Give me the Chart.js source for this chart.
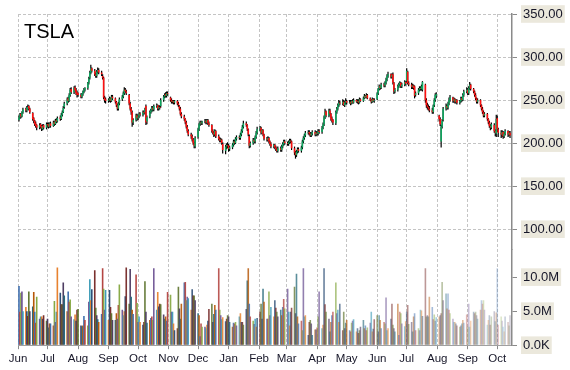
<!DOCTYPE html>
<html>
<head>
<meta charset="utf-8">
<script src="https://cdn.jsdelivr.net/npm/chart.js@4.4.1/dist/chart.umd.min.js"></script>
<style>
  html, body { margin: 0; padding: 0; background: #fff; }
  #wrap { width: 570px; height: 370px; position: relative; }
</style>
</head>
<body>
<div id="wrap"><canvas id="chart"></canvas></div>
<script>
const ticker = 'TSLA';

// one entry per month shown on the axis
const months = ['2014-06','2014-07','2014-08','2014-09','2014-10','2014-11','2014-12',
  '2015-01','2015-02','2015-03','2015-04','2015-05','2015-06','2015-07','2015-08','2015-09','2015-10'];
const monthLabels = ['Jun','Jul','Aug','Sep','Oct','Nov','Dec','Jan','Feb','Mar','Apr','May','Jun','Jul','Aug','Sep','Oct'];

const priceTicks = [100, 150, 200, 250, 300, 350];
const volumeTicks = [0, 5000000, 10000000];

// daily prices, one row per month (weekdays in order)
const open = [
  [227,230,234,231,236,240,238,240,243,240,235,229,226,223,221,218,222,220,216,221,218],
  [222,222,219,223,220,225,222,227,225,230,228,233,236,242,246,252,249,256,263,259,265,262,259],
  [258,256,254,257,260,262,264,270,276,282,287,284,280,278,283,285,282,278,276,253,251],
  [249,250,252,249,254,252,248,244,240,246,251,254,258,262,260,256,246,240,236,224,227,232],
  [229,231,234,233,236,236,243,225,231,236,238,241,239,243,244,240,242,243,250,254,257,255,258],
  [253,250,248,249,247,249,246,243,240,234,231,228,224,219,214,210,208,204,200,196],
  [207,216,222,224,223,225,226,224,227,223,221,214,212,210,214,208,205,203,204,199,191,196,198],
  [197,193,195,198,202,200,205,207,206,210,214,219,223,221,216,208,197,200,204,202,207,212],
  [216,218,212,215,210,205,204,206,202,199,196,198,195,193,191,194,192,196,199,202],
  [200,199,201,203,202,194,189,186,190,193,191,195,202,206,209,212,213,211,209,211,213,210],
  [212,211,214,213,218,222,230,237,232,238,234,229,227,223,236,240,244,247,246,248,244,247],
  [249,247,248,246,249,247,250,248,249,247,251,249,252,255,253,256,252,250,248,251,249],
  [251,258,263,266,264,268,267,270,274,278,280,277,280,270,260,262,266,268,270,266,268,271],
  [272,283,270,268,265,267,266,256,258,262,264,263,262,268,250,244,242,240,238,236,244,250,255],
  [232,228,202,219,227,240,243,241,246,250,253,249,251,248,250,247,249,252,250,256,260],
  [262,258,264,268,263,260,256,252,248,250,244,240,236,232,234,228,224,220,218,221,214,211],
  [229,216,212,210,213,208,211,214,210,212]
];
const high = [
  [232,235,235,237,241,241,243,245,244,241,236,230,227,225,222,223,223,221,222,222,224],
  [224,224,224,225,226,226,228,229,231,232,235,238,243,248,253,254,258,264,265,266,267,264,261],
  [259,258,258,261,264,265,271,277,284,291,288,286,282,285,288,287,284,280,277,255,253],
  [252,254,253,256,256,253,249,246,248,253,256,260,265,264,262,257,248,242,238,229,234,234],
  [233,236,236,238,238,241,245,232,238,240,243,243,245,246,245,244,244,252,256,258,259,260,260],
  [254,252,250,250,250,250,248,244,242,236,233,229,226,221,216,212,210,206,202,208],
  [218,224,226,226,226,228,228,228,228,225,222,216,214,216,215,210,207,206,205,201,198,200,201],
  [199,197,200,204,204,207,209,209,212,216,221,226,225,222,217,210,202,206,206,209,214,219],
  [220,219,216,216,211,207,208,207,203,201,199,199,197,195,196,196,198,201,204,204],
  [202,203,205,205,203,196,191,192,195,195,197,204,208,211,214,215,215,213,213,215,215,214],
  [214,216,216,220,224,232,240,238,240,240,235,231,228,238,242,246,250,249,251,250,249,252],
  [250,250,250,250,251,252,251,251,251,253,252,254,257,256,258,257,253,251,253,252,252],
  [259,264,268,267,270,270,272,276,280,283,281,281,282,271,264,268,270,272,271,270,273,272],
  [287,284,272,270,269,268,267,260,264,266,266,268,272,269,252,247,245,243,241,245,252,258,259],
  [233,230,221,228,242,246,245,248,253,256,254,253,252,251,251,250,254,254,258,262,265],
  [264,266,271,269,264,261,258,253,252,251,245,242,238,236,235,229,226,222,224,223,216,233],
  [232,218,215,215,214,213,216,215,214,214]
];
const low = [
  [225,228,229,230,234,236,236,239,238,234,226,223,220,218,215,216,217,214,215,216,216],
  [218,217,218,218,219,220,221,223,224,226,227,231,235,240,244,247,248,254,257,257,259,256,253],
  [254,252,252,255,258,260,262,268,274,280,282,278,276,276,281,280,278,274,251,247,246],
  [247,248,247,248,250,246,242,238,238,244,249,252,256,258,256,244,238,233,219,221,225,226],
  [227,229,231,231,233,234,221,222,229,234,236,237,237,241,238,238,239,241,248,252,253,253,255],
  [248,246,246,245,245,244,242,238,232,229,226,222,217,212,208,205,202,198,194,194],
  [205,214,220,221,221,223,222,222,221,219,212,210,207,208,206,203,201,201,198,188,187,193,194],
  [190,191,193,196,198,199,203,204,204,208,212,217,219,214,208,194,195,198,200,200,205,210],
  [214,210,211,208,203,202,202,200,197,194,194,193,191,189,189,190,190,194,197,198],
  [197,197,199,200,192,186,182,184,188,189,189,193,200,204,207,210,209,207,207,209,208,208],
  [209,209,211,211,216,220,228,230,230,232,226,224,221,221,234,238,242,244,244,243,242,245],
  [245,246,244,245,246,246,247,246,245,246,248,248,251,252,252,251,249,246,247,248,247],
  [250,256,261,262,263,265,265,268,272,276,275,275,268,257,258,260,264,266,264,264,266,267],
  [270,268,266,263,263,262,252,254,256,260,261,261,260,247,241,239,238,236,234,234,242,248,252],
  [225,220,195,217,225,238,239,239,244,248,247,247,246,246,245,245,247,248,249,254,258],
  [256,256,262,261,258,254,250,246,246,242,238,234,230,230,226,222,218,215,216,212,208,207],
  [213,207,206,207,205,206,209,207,208,206]
];
const close = [
  [230,233,231,236,239,238,241,242,240,236,228,226,222,220,218,221,219,217,220,218,222],
  [221,219,223,220,224,222,226,225,229,228,233,236,241,246,251,249,256,262,259,264,261,258,256],
  [256,254,257,260,262,264,270,275,282,287,284,280,278,283,285,282,280,276,253,250,249],
  [250,252,249,254,252,248,244,240,246,251,254,258,262,260,258,246,240,236,224,227,232,229],
  [231,234,233,236,235,240,224,230,236,238,241,239,243,244,240,242,241,250,254,256,255,258,257],
  [250,248,249,247,249,246,244,240,234,231,228,224,219,214,210,208,204,200,197,206],
  [216,222,224,223,225,226,224,227,223,221,214,212,210,214,208,205,203,204,200,192,196,198,197],
  [193,195,198,202,200,205,207,206,210,214,219,223,221,216,210,197,200,204,202,207,212,216],
  [218,212,215,210,205,204,206,202,199,196,198,195,193,191,194,192,196,199,202,200],
  [199,201,203,202,194,189,186,190,193,191,195,202,206,209,212,213,211,209,211,213,210,212],
  [211,214,213,218,222,230,236,232,238,234,228,226,224,236,240,244,247,246,248,244,247,249],
  [247,248,246,249,247,250,248,249,247,251,249,252,255,253,256,252,250,248,251,249,250],
  [258,263,266,264,268,267,270,274,278,280,277,279,270,260,262,266,268,270,266,268,271,269],
  [284,270,268,265,267,264,255,258,262,264,263,266,271,250,244,242,240,238,236,244,250,256,257],
  [228,222,219,226,240,243,241,246,250,253,249,251,248,250,247,249,252,250,256,260,262],
  [258,264,268,263,260,256,252,248,250,244,240,236,232,234,228,224,220,218,222,214,212,228],
  [216,212,210,213,208,211,214,210,212,209]
];
// daily volume, millions of shares
const volume = [
  [8.7,4.9,7.7,7.9,5.0,5.6,5.0,4.3,7.9,5.0,5.7,7.8,4.9,3.3,7.1,3.9,4.2,4.2,3.9,4.4,3.6],
  [3.9,2.6,3.2,3.2,2.9,6.5,3.4,4.9,11.4,7.7,6.0,6.0,9.2,7.3,5.0,7.9,6.4,6.7,4.2,3.8,4.5,3.6,5.2],
  [5.3,2.9,2.8,2.9,4.3,3.7,2.9,6.4,9.7,6.6,8.2,11.0,5.5,4.4,3.8,3.4,4.6,11.3,8.3,5.2,8.1],
  [3.7,8.1,5.6,4.7,3.7,3.7,4.7,3.9,5.9,8.9,5.2,4.4,5.0,7.2,11.4,6.1,11.2,7.1,5.2,4.6,10.4,6.2],
  [3.4,4.2,3.4,3.0,3.4,9.4,4.9,3.3,3.7,4.0,4.2,3.7,11.3,5.2,7.8,5.7,6.1,6.0,4.5,3.9,4.2,3.6,7.8],
  [7.4,4.9,4.9,3.2,2.2,2.5,8.6,5.4,3.9,6.1,9.2,9.3,6.6,7.1,6.9,5.2,8.2,7.3,7.3,6.6],
  [4.7,4.4,1.3,3.2,2.7,2.7,2.5,3.0,3.6,5.3,6.1,3.4,4.6,5.9,5.2,11.3,5.2,4.4,3.8,4.1,3.5,3.9,4.4],
  [4.2,3.4,2.7,3.3,3.2,3.4,2.9,4.2,4.7,3.4,3.4,3.0,5.3,9.5,11.3,6.1,4.2,3.6,3.1,3.9,2.7,4.0],
  [4.9,6.1,3.9,8.3,6.4,3.9,3.9,7.9,4.4,5.6,4.2,6.6,5.5,4.9,4.2,5.2,4.4,5.6,6.8,5.4],
  [8.3,4.9,2.9,4.9,5.5,8.6,4.7,10.5,4.2,3.2,3.6,2.2,11.3,4.2,4.4,1.5,3.4,3.7,3.2,1.5,2.3,2.3],
  [2.6,4.2,7.9,2.5,3.0,11.3,6.0,4.9,3.9,2.0,3.4,4.4,4.9,9.2,4.7,5.2,3.4,6.1,2.2,4.9,2.5,3.3],
  [3.7,2.2,2.0,3.3,3.6,3.8,2.0,2.5,1.8,2.2,2.7,3.7,2.5,2.9,2.2,2.6,3.3,4.9,2.0,2.4,3.8],
  [4.4,2.0,4.4,3.7,2.5,3.4,3.2,7.0,2.2,2.5,3.9,6.1,3.0,2.5,2.0,6.1,1.5,4.9,4.7,3.2,2.8,3.5],
  [4.9,5.9,3.1,3.4,2.0,4.2,4.7,2.2,2.5,2.2,5.2,5.1,4.3,11.3,4.2,4.4,4.2,7.1,5.6,3.8,4.5,3.6,4.1],
  [4.2,4.4,4.7,9.3,6.6,7.6,5.4,7.6,5.2,4.7,3.9,3.4,3.4,3.2,2.9,2.7,2.9,3.2,3.7,3.3,4.5],
  [2.7,6.1,2.7,3.6,4.9,4.7,4.9,4.4,3.9,5.2,6.6,6.1,6.6,5.2,3.0,3.7,4.4,3.0,4.2,5.0,3.5,4.8],
  [11.3,3.0,4.2,3.6,2.7,2.0,4.2,3.4,2.9,4.4]
];

// x axis is in calendar days counted from 1 Jun 2014
const DAY = 86400000;
const origin = Date.UTC(2014, 5, 1);
const dayNo = t => Math.round((t - origin) / DAY);

const tickDays = [];
const xDays = [];
months.forEach((m, k) => {
  const [y, mo] = m.split('-').map(Number);
  tickDays.push(dayNo(Date.UTC(y, mo - 1, 1)));
  const weekdays = [];
  for (let d = 1; d <= 31; d++) {
    const dt = new Date(Date.UTC(y, mo - 1, d));
    if (dt.getUTCMonth() !== mo - 1) break;
    const wd = dt.getUTCDay();
    if (wd !== 0 && wd !== 6) weekdays.push(dayNo(dt.getTime()));
  }
  close[k].forEach((_, i) => xDays.push(weekdays[i]));
});

const O = open.flat(), H = high.flat(), L = low.flat(), C = close.flat(), V = volume.flat();
const bodies = C.map((c, i) => ({ x: xDays[i], y: [O[i], c] }));
const wicks = C.map((c, i) => ({ x: xDays[i], y: [L[i], H[i]] }));
const vols = V.map((v, i) => ({ x: xDays[i], y: v * 1e6 }));

// volume bars cycle through an office-style palette and fade out towards the right
const volPalette = ['#3F6FAE','#B2423E','#86A843','#6E5494','#3A9AB6','#E8822E',
                    '#2C4D75','#772C2A','#5F7530','#4D3B62','#276A7C','#B65708'];
function volColor(i) {
  const hex = volPalette[i % volPalette.length];
  const r = parseInt(hex.slice(1, 3), 16), g = parseInt(hex.slice(3, 5), 16), b = parseInt(hex.slice(5, 7), 16);
  const a = 1 - 0.75 * Math.pow(i / (vols.length - 1), 2);
  return `rgba(${r},${g},${b},${a.toFixed(3)})`;
}

const tickerLabel = {
  id: 'tickerLabel',
  afterDraw(chart) {
    const c = chart.ctx;
    c.save();
    c.font = '20px "Liberation Sans", Arial, sans-serif';
    c.fillStyle = '#000';
    c.fillText(ticker, chart.chartArea.left + 6, chart.chartArea.top + 24);
    c.restore();
  }
};

Chart.defaults.font.family = '"Liberation Sans", Arial, sans-serif';

const labelColor = '#161628';
const gridColor = '#c4c4c4';
const axisColor = '#8a8a8a';
const backdrop = '#EBE8DC';
const axisWidth = 57;

new Chart(document.getElementById('chart'), {
  type: 'bar',
  data: {
    datasets: [
      { label: 'body', yAxisID: 'y', data: bodies, grouped: false, order: 1,
        barThickness: 1.6, borderWidth: 0, inflateAmount: 0,
        backgroundColor: ctx => (ctx.raw && ctx.raw.y[1] >= ctx.raw.y[0]) ? '#0fa860' : '#ff1010' },
      { label: 'wick', yAxisID: 'y', data: wicks, grouped: false, order: 2,
        barThickness: 1.2, inflateAmount: 0, backgroundColor: '#000' },
      { label: 'volume', yAxisID: 'yVol', data: vols, grouped: false, order: 3,
        barThickness: 1.6, inflateAmount: 0, backgroundColor: ctx => volColor(ctx.dataIndex) }
    ]
  },
  options: {
    responsive: true,
    maintainAspectRatio: false,
    animation: false,
    layout: { padding: { left: 18, top: 14, right: 1, bottom: 1 } },
    plugins: { legend: { display: false }, tooltip: { enabled: false } },
    scales: {
      x: {
        type: 'linear', min: 0, max: 502, offset: false,
        grid: { offset: false, color: gridColor, drawTicks: true, tickLength: 4, tickColor: axisColor },
        border: { color: '#a0a0a0', dash: [3, 2] },
        ticks: { autoSkip: false, maxRotation: 0, padding: 3, color: labelColor, font: { size: 11.5 },
                 callback: (v, i) => monthLabels[i] },
        afterBuildTicks: s => { s.ticks = tickDays.map(v => ({ value: v })); }
      },
      y: {
        position: 'right', stack: 'right', stackWeight: 235.6, min: 76, max: 350,
        grid: { color: gridColor, drawTicks: true, tickLength: 5, tickColor: axisColor },
        border: { color: axisColor, width: 1.5, dash: [3, 2] },
        ticks: { padding: 6, color: labelColor, font: { size: 13 },
                 showLabelBackdrop: true, backdropColor: backdrop, backdropPadding: { top: 1, bottom: 1, left: 2, right: 2 },
                 callback: v => v.toFixed(2) },
        afterBuildTicks: s => { s.ticks = priceTicks.map(v => ({ value: v })); },
        afterFit: s => { s.width = axisWidth; }
      },
      yVol: {
        position: 'right', stack: 'right', stackWeight: 95.2, min: 0, max: 14000000,
        grid: { drawOnChartArea: false, drawTicks: true, tickLength: 5, tickColor: axisColor },
        border: { color: axisColor, width: 1.5 },
        ticks: { padding: 6, color: labelColor, font: { size: 13 },
                 showLabelBackdrop: true, backdropColor: backdrop, backdropPadding: { top: 1, bottom: 1, left: 2, right: 2 },
                 callback: v => v >= 1e6 ? (v / 1e6).toFixed(1) + 'M' : (v / 1e3).toFixed(1) + 'K' },
        afterBuildTicks: s => { s.ticks = volumeTicks.map(v => ({ value: v })); },
        afterFit: s => { s.width = axisWidth; }
      }
    }
  },
  plugins: [tickerLabel]
});
</script>
</body>
</html>
